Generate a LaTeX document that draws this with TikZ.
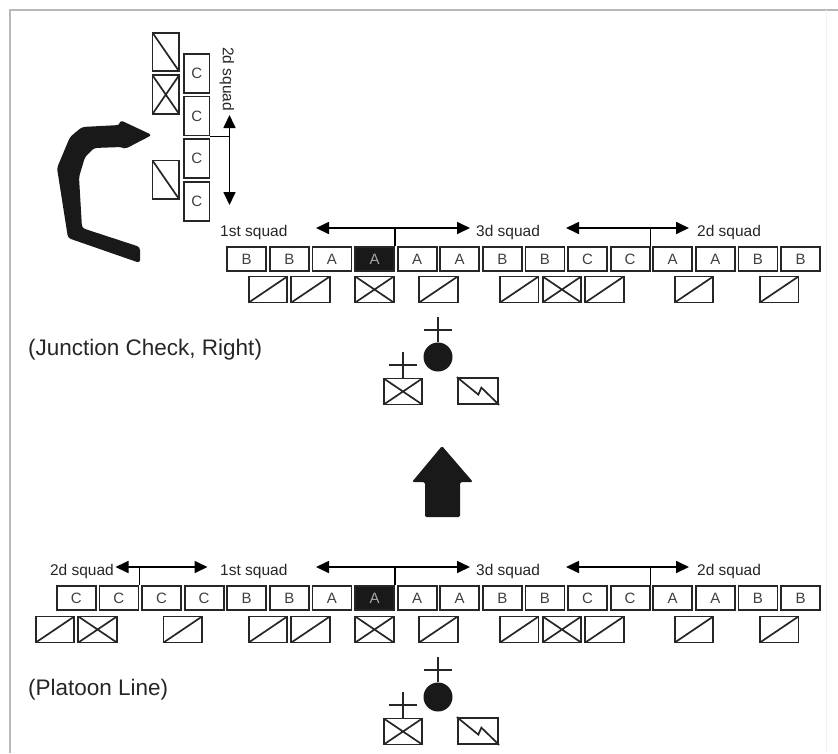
\documentclass[tikz,border=0pt]{standalone}
\usepackage{fontspec}
\setmainfont{Liberation Sans}
\usepackage{graphicx}
\usetikzlibrary{arrows.meta}

\tikzset{
  unitbox/.style={draw=black!85, line width=1.8pt, minimum width=39pt, minimum height=24pt, inner sep=0pt, text=black!75, font=\fontsize{15}{15}\selectfont},
  leadbox/.style={unitbox, fill=black!90, text=black!35},
  vehbox/.style={draw=black!85, line width=1.8pt, minimum width=38.5pt, minimum height=26pt, inner sep=0pt},
  slashveh/.style={vehbox, path picture={\draw[line width=1.7pt, black!85] (path picture bounding box.south west) -- (path picture bounding box.north east);}},
  backveh/.style={vehbox, path picture={\draw[line width=1.7pt, black!85] (path picture bounding box.north west) -- (path picture bounding box.south east);}},
  crossveh/.style={vehbox, path picture={\draw[line width=1.7pt, black!85] (path picture bounding box.south west) -- (path picture bounding box.north east) (path picture bounding box.north west) -- (path picture bounding box.south east);}},
  squadlbl/.style={inner sep=0pt, text=black!85, font=\fontsize{15.5}{15.5}\selectfont},
  squadarrow/.style={line width=1.7pt, {Triangle[length=13pt,width=12pt]}-{Triangle[length=13pt,width=12pt]}},
  stub/.style={line width=1.6pt},
  symline/.style={line width=2pt, black!85},
  captext/.style={inner sep=0pt, anchor=west, text=black!85, font=\fontsize{22.5}{22.5}\selectfont}
}

\begin{document}
\begin{tikzpicture}[x=1pt, y=-1pt]
        \useasboundingbox (0,0) rectangle (838,753);
        % Frame
        \draw[gray!55, line width=1.2pt] (10,753) -- (10,10) -- (838,10);
        \draw[gray!12, line width=1pt] (826,10) -- (826,753);

        % Junction check: 2d squad turned into column
        \foreach \k in {0,...,3} {
          \node[unitbox, minimum width=25.5pt, minimum height=39pt] (c\k) at (196.7,{73.3+42.6*\k}) {C};
        }
        \node[backveh, minimum width=26.5pt, minimum height=38.5pt] (cv1) at (165.8,52) {};
        \node[crossveh, minimum width=26.5pt, minimum height=38.5pt] (cv2) at (165.8,94.6) {};
        \node[backveh, minimum width=26.5pt, minimum height=38.5pt] (cv3) at (165.8,179.8) {};
        \coordinate (ca) at (229.5,115);
        \coordinate (cb) at (229.5,205);
        \draw[squadarrow] (ca) -- (cb);
        \draw[stub] (c1.south east) -- (c1.south east -| ca);
        \node[squadlbl, rotate=-90] (cl) at (227,79) {2d squad};

        % Turning arrow
        \fill[black!90, rounded corners=3pt] (120,125) -- (82,127) -- (70,137) -- (57,168) -- (68,238) -- (140,263) -- (140,247) -- (82,228) -- (79,177) -- (85,157) -- (94,148) -- (122,147) -- (125,149) -- (152,135) -- (120,120) -- cycle;

        % Junction check: line of squads
        \foreach \lbl/\sty [count=\i from 4] in {B/unitbox,B/unitbox,A/unitbox,A/leadbox,A/unitbox,A/unitbox,B/unitbox,B/unitbox,C/unitbox,C/unitbox,A/unitbox,A/unitbox,B/unitbox,B/unitbox} {
          \node[\sty] (q\i) at ({76.3+42.6*\i},259) {\lbl};
        }
        \foreach \m/\sty [count=\k] in {5/slashveh,6/slashveh,7.5/crossveh,9/slashveh,10.9/slashveh,11.9/crossveh,12.9/slashveh,15/slashveh,17/slashveh} {
          \node[\sty] (qv\k) at ({55+42.6*\m},289.5) {};
        }
        \coordinate (qa2) at (316,228);
        \coordinate (qb2) at (470,228);
        \coordinate (qa3) at (566,228);
        \coordinate (qb3) at (689,228);
        \draw[squadarrow] (qa2) -- (qb2);
        \draw[squadarrow] (qa3) -- (qb3);
        \draw[stub] (q7.north east) -- (q7.north east |- qa2);
        \draw[stub] (q13.north east) -- (q13.north east |- qa3);
        \node[squadlbl, anchor=base west] (ql2) at (220,236) {1st squad};
        \node[squadlbl, anchor=base west] (ql3) at (476,236) {3d squad};
        \node[squadlbl, anchor=base west] (ql4) at (697,236) {2d squad};

        % Platoon line
        \foreach \lbl/\sty [count=\i from 0] in {C/unitbox,C/unitbox,C/unitbox,C/unitbox,B/unitbox,B/unitbox,A/unitbox,A/leadbox,A/unitbox,A/unitbox,B/unitbox,B/unitbox,C/unitbox,C/unitbox,A/unitbox,A/unitbox,B/unitbox,B/unitbox} {
          \node[\sty] (p\i) at ({76.3+42.6*\i},598) {\lbl};
        }
        \foreach \m/\sty [count=\k] in {0/slashveh,1/crossveh,3/slashveh,5/slashveh,6/slashveh,7.5/crossveh,9/slashveh,10.9/slashveh,11.9/crossveh,12.9/slashveh,15/slashveh,17/slashveh} {
          \node[\sty] (pv\k) at ({55+42.6*\m},629.5) {};
        }
        \coordinate (pa1) at (115.5,567);
        \coordinate (pb1) at (207.5,567);
        \coordinate (pa2) at (316,567);
        \coordinate (pb2) at (470,567);
        \coordinate (pa3) at (566,567);
        \coordinate (pb3) at (689,567);
        \draw[squadarrow] (pa1) -- (pb1);
        \draw[squadarrow] (pa2) -- (pb2);
        \draw[squadarrow] (pa3) -- (pb3);
        \draw[stub] (p1.north east) -- (p1.north east |- pa1);
        \draw[stub] (p7.north east) -- (p7.north east |- pa2);
        \draw[stub] (p13.north east) -- (p13.north east |- pa3);
        \node[squadlbl, anchor=base east] (pl1) at (114,575) {2d squad};
        \node[squadlbl, anchor=base west] (pl2) at (220,575) {1st squad};
        \node[squadlbl, anchor=base west] (pl3) at (476,575) {3d squad};
        \node[squadlbl, anchor=base west] (pl4) at (697,575) {2d squad};

        % Leader, platoon sergeant and radio vehicles
        \foreach \dy/\g in {0/j,340/p} {
          \node[circle, fill=black!90, minimum size=29pt, inner sep=0pt] (lead\g) at (438,{357+\dy}) {};
          \draw[symline] (lead\g.north) -- ++(0,-25) ++(-14,13) -- ++(28,0);
          \node[crossveh] (psg\g) at (403,{391.5+\dy}) {};
          \draw[symline] (psg\g.north) -- ++(0,-26) ++(-14,13) -- ++(28,0);
          \node[vehbox, minimum width=40.5pt] (rto\g) at (478,{391+\dy}) {};
          \draw[line width=1.7pt, black!85] (rto\g.north west) -- ([shift={(21.5,17.5)}]rto\g.north west) -- ([shift={(24.5,10.5)}]rto\g.north west) -- (rto\g.south east);
        }

        % Move up arrow
        \fill[black!90, rounded corners=1.5pt] (442,446) -- (473,482) -- (460,482) -- (460,517) -- (425,517) -- (425,482) -- (412,482) -- cycle;

        % Captions
        \node[captext] (jcap) at (28,350) {(Junction Check, Right)};
        \node[captext] (pcap) at (28,690) {(Platoon Line)};
      \end{tikzpicture}
\end{document}
